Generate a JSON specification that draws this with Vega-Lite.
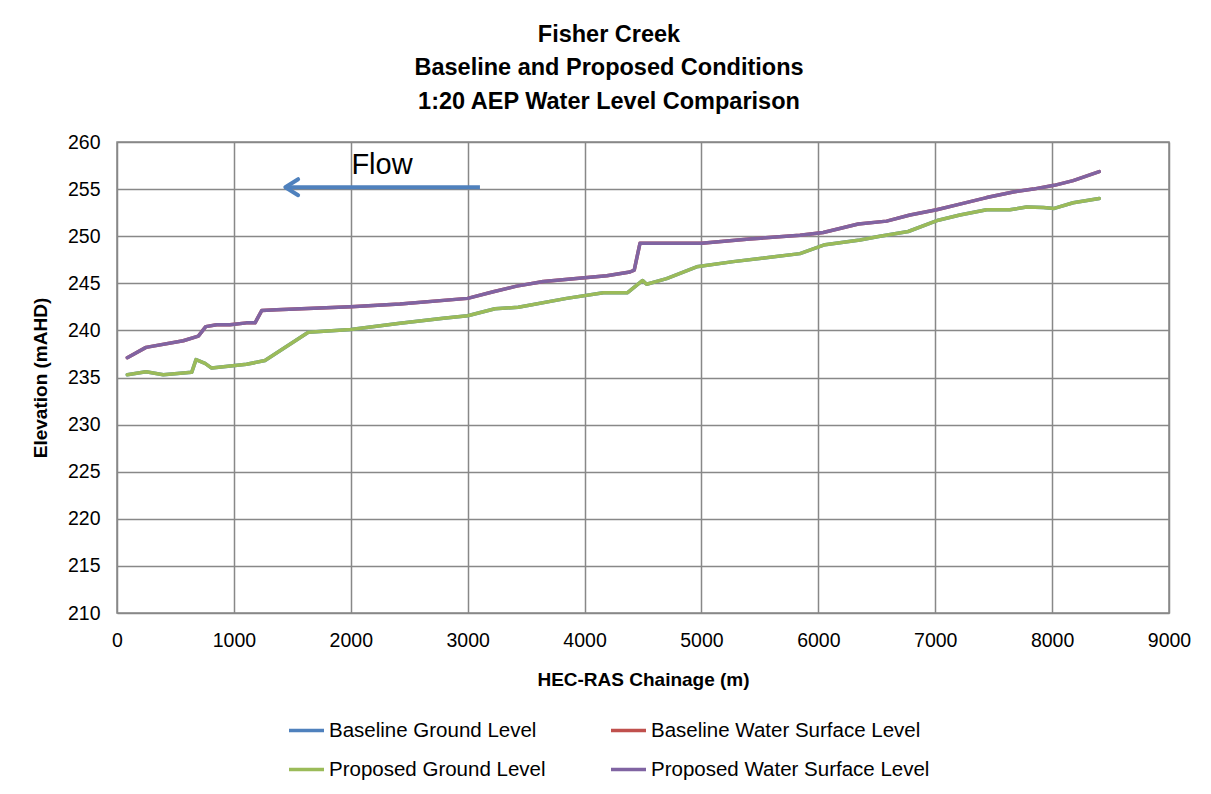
{
  "$schema": "https://vega.github.io/schema/vega-lite/v6.json",
  "width": 1052,
  "height": 471,
  "autosize": "none",
  "padding": {"left": 117, "top": 142, "right": 42, "bottom": 181},
  "background": "white",
  "title": {
    "text": ["Fisher Creek", "Baseline and Proposed Conditions", "1:20 AEP Water Level Comparison"],
    "font": "Liberation Sans",
    "fontSize": 23.5,
    "fontWeight": "bold",
    "lineHeight": 33.5,
    "color": "black",
    "anchor": "middle",
    "dx": -34,
    "offset": 19
  },
  "datasets": {
    "ground": [
      {"x": 88, "Baseline Ground Level": 235.3, "Proposed Ground Level": 235.3},
      {"x": 248, "Baseline Ground Level": 235.6, "Proposed Ground Level": 235.6},
      {"x": 396, "Baseline Ground Level": 235.3, "Proposed Ground Level": 235.3},
      {"x": 639, "Baseline Ground Level": 235.55, "Proposed Ground Level": 235.55},
      {"x": 676, "Baseline Ground Level": 236.9, "Proposed Ground Level": 236.9},
      {"x": 753, "Baseline Ground Level": 236.5, "Proposed Ground Level": 236.5},
      {"x": 810, "Baseline Ground Level": 236.0, "Proposed Ground Level": 236.0},
      {"x": 1109, "Baseline Ground Level": 236.4, "Proposed Ground Level": 236.4},
      {"x": 1266, "Baseline Ground Level": 236.8, "Proposed Ground Level": 236.8},
      {"x": 1637, "Baseline Ground Level": 239.8, "Proposed Ground Level": 239.8},
      {"x": 2000, "Baseline Ground Level": 240.1, "Proposed Ground Level": 240.1},
      {"x": 2421, "Baseline Ground Level": 240.75, "Proposed Ground Level": 240.75},
      {"x": 2792, "Baseline Ground Level": 241.3, "Proposed Ground Level": 241.3},
      {"x": 3000, "Baseline Ground Level": 241.55, "Proposed Ground Level": 241.55},
      {"x": 3234, "Baseline Ground Level": 242.3, "Proposed Ground Level": 242.3},
      {"x": 3433, "Baseline Ground Level": 242.45, "Proposed Ground Level": 242.45},
      {"x": 3847, "Baseline Ground Level": 243.4, "Proposed Ground Level": 243.4},
      {"x": 4161, "Baseline Ground Level": 244.0, "Proposed Ground Level": 244.0},
      {"x": 4368, "Baseline Ground Level": 244.0, "Proposed Ground Level": 244.0},
      {"x": 4497, "Baseline Ground Level": 245.3, "Proposed Ground Level": 245.3},
      {"x": 4531, "Baseline Ground Level": 244.9, "Proposed Ground Level": 244.9},
      {"x": 4702, "Baseline Ground Level": 245.5, "Proposed Ground Level": 245.5},
      {"x": 4959, "Baseline Ground Level": 246.75, "Proposed Ground Level": 246.75},
      {"x": 5272, "Baseline Ground Level": 247.3, "Proposed Ground Level": 247.3},
      {"x": 5843, "Baseline Ground Level": 248.15, "Proposed Ground Level": 248.15},
      {"x": 6057, "Baseline Ground Level": 249.1, "Proposed Ground Level": 249.1},
      {"x": 6356, "Baseline Ground Level": 249.6, "Proposed Ground Level": 249.6},
      {"x": 6527, "Baseline Ground Level": 250.0, "Proposed Ground Level": 250.0},
      {"x": 6769, "Baseline Ground Level": 250.5, "Proposed Ground Level": 250.5},
      {"x": 7026, "Baseline Ground Level": 251.7, "Proposed Ground Level": 251.7},
      {"x": 7211, "Baseline Ground Level": 252.25, "Proposed Ground Level": 252.25},
      {"x": 7440, "Baseline Ground Level": 252.8, "Proposed Ground Level": 252.8},
      {"x": 7639, "Baseline Ground Level": 252.8, "Proposed Ground Level": 252.8},
      {"x": 7782, "Baseline Ground Level": 253.1, "Proposed Ground Level": 253.1},
      {"x": 7925, "Baseline Ground Level": 253.05, "Proposed Ground Level": 253.05},
      {"x": 8018, "Baseline Ground Level": 252.95, "Proposed Ground Level": 252.95},
      {"x": 8180, "Baseline Ground Level": 253.55, "Proposed Ground Level": 253.55},
      {"x": 8403, "Baseline Ground Level": 254.0, "Proposed Ground Level": 254.0}
    ],
    "wsl": [
      {"x": 88, "Baseline Water Surface Level": 237.1, "Proposed Water Surface Level": 237.1},
      {"x": 248, "Baseline Water Surface Level": 238.2, "Proposed Water Surface Level": 238.2},
      {"x": 567, "Baseline Water Surface Level": 238.9, "Proposed Water Surface Level": 238.9},
      {"x": 696, "Baseline Water Surface Level": 239.4, "Proposed Water Surface Level": 239.4},
      {"x": 759, "Baseline Water Surface Level": 240.4, "Proposed Water Surface Level": 240.4},
      {"x": 853, "Baseline Water Surface Level": 240.6, "Proposed Water Surface Level": 240.6},
      {"x": 967, "Baseline Water Surface Level": 240.6, "Proposed Water Surface Level": 240.6},
      {"x": 1109, "Baseline Water Surface Level": 240.8, "Proposed Water Surface Level": 240.8},
      {"x": 1181, "Baseline Water Surface Level": 240.8, "Proposed Water Surface Level": 240.8},
      {"x": 1238, "Baseline Water Surface Level": 242.1, "Proposed Water Surface Level": 242.1},
      {"x": 1366, "Baseline Water Surface Level": 242.2, "Proposed Water Surface Level": 242.2},
      {"x": 2000, "Baseline Water Surface Level": 242.5, "Proposed Water Surface Level": 242.5},
      {"x": 2421, "Baseline Water Surface Level": 242.8, "Proposed Water Surface Level": 242.8},
      {"x": 3000, "Baseline Water Surface Level": 243.4, "Proposed Water Surface Level": 243.4},
      {"x": 3219, "Baseline Water Surface Level": 244.1, "Proposed Water Surface Level": 244.1},
      {"x": 3419, "Baseline Water Surface Level": 244.7, "Proposed Water Surface Level": 244.7},
      {"x": 3647, "Baseline Water Surface Level": 245.2, "Proposed Water Surface Level": 245.2},
      {"x": 4000, "Baseline Water Surface Level": 245.6, "Proposed Water Surface Level": 245.6},
      {"x": 4190, "Baseline Water Surface Level": 245.8, "Proposed Water Surface Level": 245.8},
      {"x": 4388, "Baseline Water Surface Level": 246.2, "Proposed Water Surface Level": 246.2},
      {"x": 4425, "Baseline Water Surface Level": 246.4, "Proposed Water Surface Level": 246.4},
      {"x": 4474, "Baseline Water Surface Level": 249.25, "Proposed Water Surface Level": 249.25},
      {"x": 5000, "Baseline Water Surface Level": 249.25, "Proposed Water Surface Level": 249.25},
      {"x": 5411, "Baseline Water Surface Level": 249.7, "Proposed Water Surface Level": 249.7},
      {"x": 5843, "Baseline Water Surface Level": 250.1, "Proposed Water Surface Level": 250.1},
      {"x": 6042, "Baseline Water Surface Level": 250.4, "Proposed Water Surface Level": 250.4},
      {"x": 6342, "Baseline Water Surface Level": 251.3, "Proposed Water Surface Level": 251.3},
      {"x": 6584, "Baseline Water Surface Level": 251.6, "Proposed Water Surface Level": 251.6},
      {"x": 6784, "Baseline Water Surface Level": 252.25, "Proposed Water Surface Level": 252.25},
      {"x": 7012, "Baseline Water Surface Level": 252.8, "Proposed Water Surface Level": 252.8},
      {"x": 7211, "Baseline Water Surface Level": 253.4, "Proposed Water Surface Level": 253.4},
      {"x": 7440, "Baseline Water Surface Level": 254.1, "Proposed Water Surface Level": 254.1},
      {"x": 7667, "Baseline Water Surface Level": 254.7, "Proposed Water Surface Level": 254.7},
      {"x": 7838, "Baseline Water Surface Level": 255.0, "Proposed Water Surface Level": 255.0},
      {"x": 8018, "Baseline Water Surface Level": 255.4, "Proposed Water Surface Level": 255.4},
      {"x": 8180, "Baseline Water Surface Level": 255.9, "Proposed Water Surface Level": 255.9},
      {"x": 8403, "Baseline Water Surface Level": 256.85, "Proposed Water Surface Level": 256.85}
    ],
    "arrow": [
      {"x": 3105, "x2": 1440, "y": 255.2, "label": "Flow", "lx": 2267, "ly": 257.6}
    ]
  },
  "config": {
    "view": {"stroke": "#888888", "strokeWidth": 1.5},
    "axis": {
      "grid": true,
      "gridColor": "#888888",
      "gridWidth": 1.5,
      "gridOpacity": 1,
      "domain": false,
      "ticks": false,
      "labelFont": "Liberation Sans",
      "labelFontSize": 19.5,
      "labelColor": "black",
      "titleFont": "Liberation Sans",
      "titleFontSize": 19,
      "titleFontWeight": "bold",
      "titleColor": "black"
    }
  },
  "layer": [
    {
      "data": {"name": "ground"},
      "transform": [{"fold": ["Baseline Ground Level", "Proposed Ground Level"], "as": ["series", "y"]}],
      "mark": {"type": "line", "strokeWidth": 3.5, "strokeJoin": "round", "strokeCap": "round"},
      "encoding": {
        "x": {
          "field": "x", "type": "quantitative",
          "scale": {"domain": [0, 9000], "nice": false},
          "axis": {"values": [0, 1000, 2000, 3000, 4000, 5000, 6000, 7000, 8000, 9000], "title": "HEC-RAS Chainage (m)", "labelPadding": 18, "titleY": 57, "labelFlush": false, "format": "d"}
        },
        "y": {
          "field": "y", "type": "quantitative",
          "scale": {"domain": [210, 260], "nice": false, "zero": false},
          "axis": {"values": [210, 215, 220, 225, 230, 235, 240, 245, 250, 255, 260], "title": "Elevation (mAHD)", "labelPadding": 17, "titleX": -77, "titleBaseline": "middle"}
        },
        "color": {
          "field": "series", "type": "nominal",
          "scale": {
            "domain": ["Baseline Ground Level", "Baseline Water Surface Level", "Proposed Ground Level", "Proposed Water Surface Level"],
            "range": ["#4F81BD", "#C0504D", "#9BBB59", "#8064A2"]
          },
          "legend": {
            "title": null,
            "orient": "none",
            "legendX": 170,
            "legendY": 569,
            "columns": 2,
            "direction": "horizontal",
            "columnPadding": 58,
            "rowPadding": 9,
            "symbolType": "stroke",
            "symbolSize": 1225,
            "symbolStrokeWidth": 3.5,
            "labelFont": "Liberation Sans",
            "labelFontSize": 20.5,
            "labelColor": "black",
            "labelOffset": 3,
            "labelLimit": 400
          }
        },
        "order": {"field": "series"}
      }
    },
    {
      "data": {"name": "wsl"},
      "transform": [{"fold": ["Baseline Water Surface Level", "Proposed Water Surface Level"], "as": ["series", "y"]}],
      "mark": {"type": "line", "strokeWidth": 3.5, "strokeJoin": "round", "strokeCap": "round"},
      "encoding": {
        "x": {"field": "x", "type": "quantitative"},
        "y": {"field": "y", "type": "quantitative"},
        "color": {"field": "series", "type": "nominal"}
      }
    },
    {
      "data": {"name": "arrow"},
      "mark": {"type": "rule", "color": "#4F81BD", "strokeWidth": 4},
      "encoding": {
        "x": {"field": "x", "type": "quantitative"},
        "x2": {"field": "x2"},
        "y": {"field": "y", "type": "quantitative"}
      }
    },
    {
      "data": {"name": "arrow"},
      "mark": {"type": "point", "shape": "M1.6,-1L0,0L1.6,1", "filled": false, "stroke": "#4F81BD", "strokeWidth": 4, "strokeCap": "round", "strokeJoin": "round", "size": 256, "opacity": 1},
      "encoding": {
        "x": {"field": "x2", "type": "quantitative"},
        "y": {"field": "y", "type": "quantitative"}
      }
    },
    {
      "data": {"name": "arrow"},
      "mark": {"type": "text", "font": "Liberation Sans", "fontSize": 29, "color": "black", "align": "center", "baseline": "middle"},
      "encoding": {
        "x": {"field": "lx", "type": "quantitative"},
        "y": {"field": "ly", "type": "quantitative"},
        "text": {"field": "label"}
      }
    }
  ]
}
